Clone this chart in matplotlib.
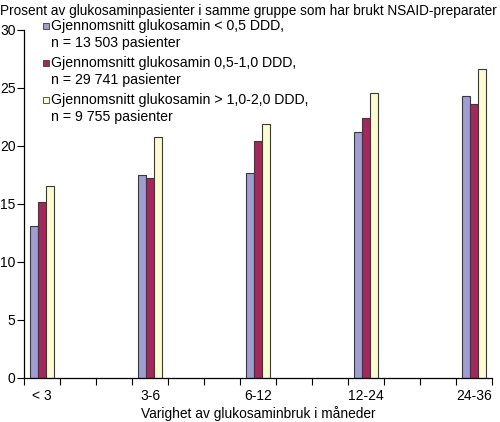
import numpy as np
import matplotlib.pyplot as plt

plt.rcParams['font.family'] = ['Liberation Sans', 'DejaVu Sans']

categories = ['< 3', '3-6', '6-12', '12-24', '24-36']
low = [13.1, 17.5, 17.7, 21.2, 24.3]
mid = [15.2, 17.2, 20.4, 22.4, 23.6]
high = [16.5, 20.8, 21.9, 24.6, 26.6]
series_names = ['Gjennomsnitt glukosamin < 0,5 DDD,',
                'Gjennomsnitt glukosamin 0,5-1,0 DDD,',
                'Gjennomsnitt glukosamin > 1,0-2,0 DDD,']
series_n = ['n = 13 503 pasienter', 'n = 29 741 pasienter', 'n = 9 755 pasienter']
colors = ['#a09dd0', '#a3285c', '#fdfbd2']

fig = plt.figure(figsize=(5, 4.22), dpi=100)
ax = fig.add_axes([0.048, 0.105, 0.936, 0.824])

x = 0.5 + 3 * np.arange(len(categories))
w = 0.23
for i, vals in enumerate([low, mid, high]):
    ax.bar(x + (i - 1) * w, vals, width=w, color=colors[i],
           edgecolor='#3a3a3a', linewidth=0.8)

ax.set_xlim(0, 13)
ax.set_ylim(0, 30)
ax.set_xticks(np.arange(0, 14))
ax.set_xticklabels([])
ax.set_xticks(x, minor=True)
ax.set_xticklabels(categories, minor=True)
ax.tick_params(axis='x', which='minor', length=0, labelsize=10, pad=8)
ax.tick_params(axis='x', which='major', length=5, width=0.8, direction='out')
ax.set_yticks(range(0, 31, 5))
ax.tick_params(axis='y', length=5, width=0.8, labelsize=10, pad=1)
ax.spines['top'].set_visible(False)
ax.spines['right'].set_visible(False)
ax.spines['left'].set_linewidth(0.9)
ax.spines['bottom'].set_linewidth(0.9)

ax.set_xlabel('Varighet av glukosaminbruk i måneder', fontsize=9.9, labelpad=2)
fig.text(0.0, 0.975, 'Prosent av glukosaminpasienter i samme gruppe som har brukt NSAID-preparater',
         fontsize=9.8, va='center', ha='left')

# legend drawn by hand: square beside first line
for i in range(3):
    y1 = 1 - (26 + i * 37) / 422
    y2 = 1 - (43 + i * 37) / 422
    fig.add_artist(plt.Rectangle((43 / 500, y1 - 3 / 422), 6 / 500, 6 / 422,
                                 transform=fig.transFigure, facecolor=colors[i],
                                 edgecolor='#3a3a3a', linewidth=0.6))
    fig.text(0.102, y1, series_names[i], fontsize=10.2, va='center')
    fig.text(0.102, y2, series_n[i], fontsize=10.2, va='center')

fig.savefig('out.png', dpi=100)
